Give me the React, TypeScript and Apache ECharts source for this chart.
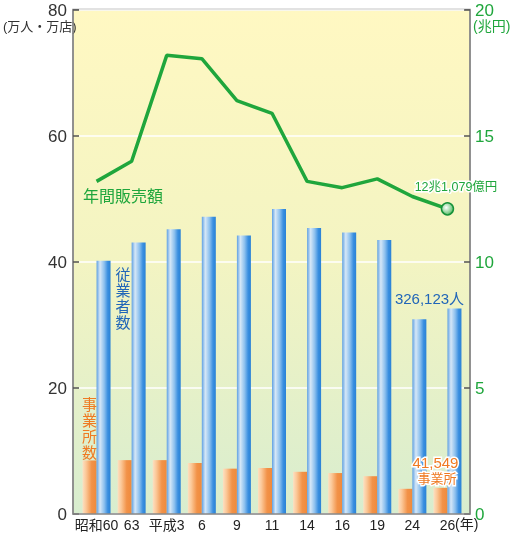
import React, { useEffect, useRef } from "react";
import * as echarts from "echarts";

const categories = ["昭和60", "63", "平成3", "6", "9", "11", "14", "16", "19", "24", "26"];
const years = ["1985", "1988", "1991", "1994", "1997", "1999", "2002", "2004", "2007", "2012", "2014"];
// 事業所数 (万店)
const establishments = [8.5, 8.55, 8.55, 8.1, 7.2, 7.3, 6.7, 6.5, 6.0, 4.0, 4.15];
// 従業者数 (万人)
const employees = [40.2, 43.1, 45.2, 47.2, 44.2, 48.4, 45.4, 44.7, 43.5, 30.9, 32.61];
// 年間販売額 (兆円)
const sales = [13.2, 14.0, 18.2, 18.07, 16.4, 15.9, 13.2, 12.95, 13.3, 12.6, 12.11];

const SANS = "'Liberation Sans', 'Noto Sans CJK JP', sans-serif";
const CJK = "'Noto Sans CJK JP', sans-serif";
const GREEN = "#1fa63c";
const BLUE = "#2166b8";
const ORANGE = "#ef7a22";

function verticalText(chars: string, x: number, y0: number, color: string) {
  return chars.split("").map((c, i) => ({
    type: "text",
    x,
    y: y0 + i * 16,
    z: 10,
    style: { text: c, fill: color, font: `15px ${CJK}`, textAlign: "center", textVerticalAlign: "middle" },
  }));
}

export default function App() {
  const ref = useRef<HTMLDivElement>(null);
  useEffect(() => {
    if (!ref.current) return;
    const chart = echarts.init(ref.current, undefined, { renderer: "svg" });
    const lastIdx = sales.length - 1;
    const lineData = sales.map((v, i) =>
      i === lastIdx
        ? {
            value: v,
            symbol: "circle",
            symbolSize: 12,
            itemStyle: {
              color: new echarts.graphic.RadialGradient(0.4, 0.4, 0.6, [
                { offset: 0, color: "#ffffff" },
                { offset: 1, color: "#5cbf6a" },
              ]),
              borderColor: "#17923a",
              borderWidth: 1.5,
            },
          }
        : v
    );
    chart.setOption({
      animation: false,
      grid: { left: 79, right: 50, top: 10, bottom: 23, containLabel: false, outerBoundsMode: "none" },
      xAxis: {
        type: "category",
        data: categories,
        axisLine: { show: false },
        axisTick: { show: false },
        axisLabel: {
          interval: 0,
          hideOverlap: false,
          margin: 2,
          fontSize: 14,
          lineHeight: 17,
          color: "#222",
          fontFamily: SANS,
          formatter: (val: string, idx: number) => `${val}\n${years[idx]}`,
        },
      },
      yAxis: [
        {
          type: "value",
          min: 0,
          max: 80,
          interval: 20,
          offset: 6,
          axisLine: { show: true, lineStyle: { color: "#8a8a8a", width: 1.5 } },
          axisTick: { show: true, inside: true, length: 6, lineStyle: { color: "#555", width: 1.5 } },
          axisLabel: { margin: 6, fontSize: 17, color: "#333", fontFamily: SANS },
          splitLine: { show: true, lineStyle: { color: "#ffffff", width: 1.5 } },
        },
        {
          type: "value",
          min: 0,
          max: 20,
          interval: 5,
          offset: 5,
          position: "right",
          axisLine: { show: true, lineStyle: { color: "#8a8a8a", width: 1.5 } },
          axisTick: { show: true, inside: true, length: 6, lineStyle: { color: "#555", width: 1.5 } },
          axisLabel: { margin: 5, fontSize: 17, color: GREEN, fontFamily: SANS },
          splitLine: { show: false },
        },
      ],
      series: [
        {
          name: "事業所数",
          type: "bar",
          data: establishments,
          barWidth: 14,
          barGap: "0%",
          itemStyle: {
            color: new echarts.graphic.LinearGradient(0, 0, 1, 0, [
              { offset: 0, color: "#fde0c2" },
              { offset: 0.25, color: "#fbc898" },
              { offset: 0.65, color: "#f29248" },
              { offset: 1, color: "#ef8a3c" },
            ]),
          },
          z: 3,
        },
        {
          name: "従業者数",
          type: "bar",
          data: employees,
          barWidth: 14,
          barGap: "0%",
          itemStyle: {
            color: new echarts.graphic.LinearGradient(0, 0, 1, 0, [
              { offset: 0, color: "#5fa0e2" },
              { offset: 0.25, color: "#d5e7f7" },
              { offset: 0.55, color: "#8cc0ee" },
              { offset: 0.8, color: "#3a8fe0" },
              { offset: 1, color: "#2a82d6" },
            ]),
          },
          z: 3,
        },
        {
          name: "年間販売額",
          type: "line",
          yAxisIndex: 1,
          data: lineData,
          symbol: "none",
          lineStyle: { color: GREEN, width: 3.5 },
          itemStyle: { color: GREEN },
          z: 5,
        },
      ],
      graphic: [
        {
          type: "rect",
          z: -10,
          shape: { x: 73, y: 9.5, width: 397, height: 504.5 },
          style: {
            fill: new echarts.graphic.LinearGradient(0, 0, 0, 1, [
              { offset: 0, color: "#fff8c2" },
              { offset: 0.5, color: "#f3f4c2" },
              { offset: 1, color: "#d8edcf" },
            ]),
            stroke: "#8a8a8a",
            lineWidth: 1.5,
          },
        },
        {
          type: "line",
          z: 100,
          shape: { x1: 73, y1: 514, x2: 470, y2: 514 },
          style: { stroke: "#8a8a8a", lineWidth: 1.5 },
        },
        {
          type: "text",
          x: 3,
          y: 26,
          style: { text: "(万人・万店)", fill: "#333", font: `13px ${SANS}`, textAlign: "left", textVerticalAlign: "middle" },
        },
        {
          type: "text",
          x: 473,
          y: 26,
          style: { text: "(兆円)", fill: GREEN, font: `14px ${SANS}`, textAlign: "left", textVerticalAlign: "middle" },
        },
        {
          type: "text",
          x: 83,
          y: 195,
          z: 10,
          style: { text: "年間販売額", fill: GREEN, font: `16px ${CJK}`, textAlign: "left", textVerticalAlign: "middle" },
        },
        ...verticalText("従業者数", 123, 273, BLUE),
        ...verticalText("事業所数", 89.5, 403, ORANGE),
        {
          type: "text",
          x: 429.5,
          y: 298,
          z: 10,
          style: { text: "326,123人", fill: BLUE, font: `15px ${SANS}`, textAlign: "center", textVerticalAlign: "middle" },
        },
        {
          type: "text",
          x: 435.5,
          y: 462,
          z: 10,
          style: { text: "41,549", fill: ORANGE, stroke: "#fff", lineWidth: 3, font: `15px ${SANS}`, textAlign: "center", textVerticalAlign: "middle" },
        },
        {
          type: "text",
          x: 437,
          y: 477,
          z: 10,
          style: { text: "事業所", fill: ORANGE, stroke: "#fff", lineWidth: 3, font: `13px ${CJK}`, textAlign: "center", textVerticalAlign: "middle" },
        },
        {
          type: "text",
          x: 456,
          y: 187,
          z: 10,
          style: { text: "12兆1,079億円", fill: GREEN, stroke: "#fff", lineWidth: 3, font: `12.5px ${SANS}`, textAlign: "center", textVerticalAlign: "middle" },
        },
        {
          type: "text",
          x: 455,
          y: 524,
          style: { text: "(年)", fill: "#222", font: `14px ${SANS}`, textAlign: "left", textVerticalAlign: "middle" },
        },
      ],
    });
    return () => chart.dispose();
  }, []);
  return <div ref={ref} style={{ position: "fixed", left: 0, top: 0, width: 515, height: 537 }} />;
}
